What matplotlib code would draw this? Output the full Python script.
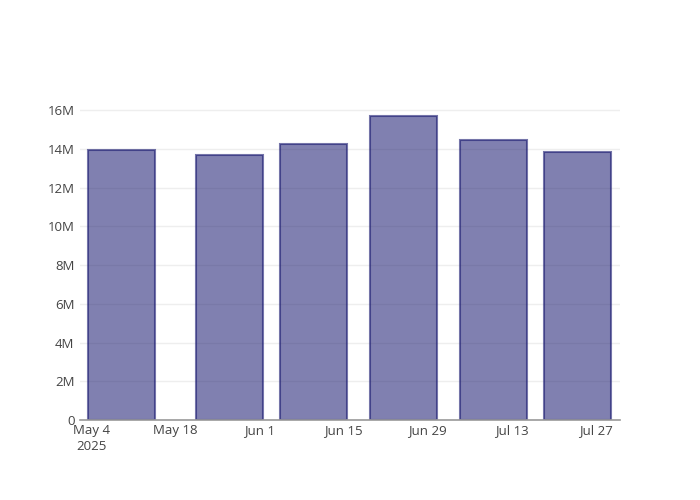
import matplotlib
matplotlib.use("Agg")
import matplotlib.pyplot as plt
import matplotlib.dates as mdates
import numpy as np
import datetime as dt

dates = ["2025-05-09", "2025-05-27", "2025-06-10", "2025-06-25", "2025-07-10", "2025-07-24"]
values = [13.95e6, 13.70e6, 14.25e6, 15.68e6, 14.43e6, 13.86e6]
tick_dates = ["2025-05-04", "2025-05-18", "2025-06-01", "2025-06-15", "2025-06-29", "2025-07-13", "2025-07-27"]
tick_labels = ["May 4\n2025", "May 18", "Jun 1", "Jun 15", "Jun 29", "Jul 13", "Jul 27"]
y_ticks = [0, 2e6, 4e6, 6e6, 8e6, 10e6, 12e6, 14e6, 16e6]
y_labels = ["0", "2M", "4M", "6M", "8M", "10M", "12M", "14M", "16M"]

plt.rcParams['font.family'] = ['Open Sans', 'DejaVu Sans']

fig = plt.figure(figsize=(7, 5), dpi=100)
ax = fig.add_axes([80/700, 80/500, 540/700, 320/500])

x = mdates.date2num([dt.datetime.fromisoformat(d) for d in dates])
ax.bar(x, values, width=11.2, facecolor=(25/255, 25/255, 112/255, 0.55),
       edgecolor=(25/255, 25/255, 112/255, 0.6), linewidth=1.5, zorder=3)

t0 = mdates.date2num(dt.datetime(2025, 5, 4))
ax.set_xlim(t0 - 1.95, t0 + 88.05)
ax.set_ylim(0, 16.52e6)

ax.set_xticks(mdates.date2num([dt.datetime.fromisoformat(d) for d in tick_dates]))
ax.set_xticklabels(tick_labels, fontsize=9.5, color='#444444', linespacing=1.25)
ax.set_yticks(y_ticks)
ax.set_yticklabels(y_labels, fontsize=9.5, color='#444444')
ax.tick_params(axis='both', length=0, pad=4)
ax.tick_params(axis='x', pad=3)

ax.grid(axis='y', color='#eeeeee', linewidth=1, zorder=0)
for s in ['top', 'right', 'left']:
    ax.spines[s].set_visible(False)
ax.spines['bottom'].set_color('#999999')
ax.spines['bottom'].set_linewidth(1.2)
ax.spines['bottom'].set_zorder(4)

fig.savefig("out.png", dpi=100)
